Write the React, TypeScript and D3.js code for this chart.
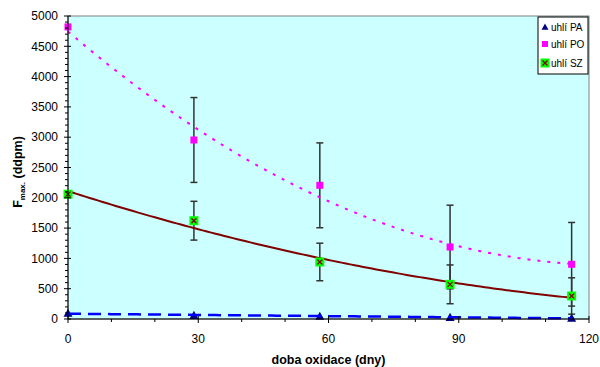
import React from "react";
import * as d3 from "d3";

const days = [0, 29, 58, 88, 116];
const paValues = [95, 60, 45, 28, 15];
const poValues = [4820, 2954, 2206, 1188, 903];
const poErr = [0, 700, 700, 690, 690];
const szValues = [2060, 1622, 941, 572, 380];
const szErr = [0, 320, 310, 320, 300];
const yTicks = [0, 500, 1000, 1500, 2000, 2500, 3000, 3500, 4000, 4500, 5000];
const xTicks = [0, 30, 60, 90, 120];
const legendLabels = ["uhlí PA", "uhlí PO", "uhlí SZ"];

const W = 600, H = 367;
const left = 68, right = 589, top = 16, bottom = 319;

function polyFit(xs: number[], ys: number[], deg: number) {
  const n = deg + 1;
  const A: number[][] = [];
  for (let i = 0; i < n; i++) {
    A.push([]);
    for (let j = 0; j <= n; j++) A[i].push(0);
  }
  xs.forEach((x, k) => {
    for (let i = 0; i < n; i++) {
      for (let j = 0; j < n; j++) A[i][j] += Math.pow(x, i + j);
      A[i][n] += Math.pow(x, i) * ys[k];
    }
  });
  for (let i = 0; i < n; i++) {
    let p = i;
    for (let r = i + 1; r < n; r++) if (Math.abs(A[r][i]) > Math.abs(A[p][i])) p = r;
    [A[i], A[p]] = [A[p], A[i]];
    for (let r = 0; r < n; r++) {
      if (r === i) continue;
      const f = A[r][i] / A[i][i];
      for (let c = i; c <= n; c++) A[r][c] -= f * A[i][c];
    }
  }
  const coef = A.map((row, i) => row[n] / row[i]);
  return (x: number) => coef.reduce((s, c, i) => s + c * Math.pow(x, i), 0);
}

export default function App() {
  const x = d3.scaleLinear().domain([0, 120]).range([left, right]);
  const y = d3.scaleLinear().domain([0, 5000]).range([bottom, top]);
  const samples = d3.range(0, 116.01, 1);
  const line = d3.line<[number, number]>().x((d) => x(d[0])).y((d) => y(d[1]));
  const poFit = polyFit(days, poValues, 2);
  const szFit = polyFit(days, szValues, 2);
  const paFit = polyFit(days, paValues, 1);
  const font = "Arial, 'Liberation Sans', sans-serif";
  const minorY = d3.range(0, 5001, 100).filter((v) => v % 500 !== 0);
  const minorX = d3.range(0, 121, 10).filter((v) => v % 30 !== 0);

  const errBar = (i: number, v: number, e: number, key: string) => {
    if (!e) return null;
    const cx = x(days[i]);
    return (
      <g key={key} stroke="#333" strokeWidth={1.5}>
        <line x1={cx} x2={cx} y1={y(v + e)} y2={y(v - e)} />
        <line x1={cx - 3.5} x2={cx + 3.5} y1={y(v + e)} y2={y(v + e)} />
        <line x1={cx - 3.5} x2={cx + 3.5} y1={y(v - e)} y2={y(v - e)} />
      </g>
    );
  };

  const tri = (cx: number, cy: number, s: number) =>
    `M${cx},${cy - s} L${cx + s},${cy + s * 0.8} L${cx - s},${cy + s * 0.8} Z`;

  const szMarker = (cx: number, cy: number, key: string) => (
    <g key={key}>
      <rect x={cx - 4.5} y={cy - 4.5} width={9} height={9} fill="#00ff00" />
      <path d={`M${cx - 2.5},${cy - 2.5} L${cx + 2.5},${cy + 2.5} M${cx + 2.5},${cy - 2.5} L${cx - 2.5},${cy + 2.5}`} stroke="#800000" strokeWidth={1.2} />
    </g>
  );

  return (
    <svg width={W} height={H} style={{ position: "absolute", left: 0, top: 0 }}>
      <rect x={0} y={0} width={W} height={H} fill="#fff" />
      <rect x={left} y={top} width={right - left} height={bottom - top} fill="#ccffff" stroke="#808080" strokeWidth={1} />
      {days.map((_, i) => errBar(i, poValues[i], poErr[i], "po" + i))}
      {days.map((_, i) => errBar(i, szValues[i], szErr[i], "sz" + i))}
      <path d={line(samples.map((d) => [d, poFit(d)]))!} fill="none" stroke="#ff00ff" strokeWidth={2} strokeDasharray="3,7" />
      <path d={line(samples.map((d) => [d, szFit(d)]))!} fill="none" stroke="#800000" strokeWidth={2} />
      {days.map((d, i) => (
        <path key={"pa" + i} d={tri(x(d), y(paValues[i]), 4.5)} fill="#000080" />
      ))}
      <path d={line(samples.map((d) => [d, paFit(d)]))!} fill="none" stroke="#0000ff" strokeWidth={2.5} strokeDasharray="13,7" />
      {days.map((d, i) => (
        <rect key={"pom" + i} x={x(d) - 3.5} y={y(poValues[i]) - 3.5} width={7} height={7} fill="#ff00ff" />
      ))}
      {days.map((d, i) => szMarker(x(d), y(szValues[i]), "szm" + i))}
      <line x1={left} x2={left} y1={top} y2={bottom} stroke="#000" strokeWidth={1} />
      <line x1={left} x2={right} y1={bottom} y2={bottom} stroke="#000" strokeWidth={1} />
      {yTicks.map((t) => (
        <g key={"yt" + t}>
          <line x1={left - 4} x2={left + 3} y1={y(t)} y2={y(t)} stroke="#000" />
          <text x={58} y={y(t)} dy="0.35em" textAnchor="end" fontFamily={font} fontSize={12} fill="#000">{t}</text>
        </g>
      ))}
      {minorY.map((t) => (
        <line key={"ym" + t} x1={left - 3} x2={left} y1={y(t)} y2={y(t)} stroke="#000" />
      ))}
      {xTicks.map((t) => (
        <g key={"xt" + t}>
          <line x1={x(t)} x2={x(t)} y1={bottom - 3} y2={bottom + 4} stroke="#000" />
          <text x={x(t)} y={343} textAnchor="middle" fontFamily={font} fontSize={12} fill="#000">{t}</text>
        </g>
      ))}
      {minorX.map((t) => (
        <line key={"xm" + t} x1={x(t)} x2={x(t)} y1={bottom} y2={bottom + 3} stroke="#000" />
      ))}
      <text x={(left + right) / 2} y={364} textAnchor="middle" fontFamily={font} fontSize={12.5} fontWeight="bold" fill="#000">doba oxidace (dny)</text>
      <text transform={`translate(22,172) rotate(-90)`} textAnchor="middle" fontFamily={font} fontSize={12.5} fontWeight="bold" fill="#000">
        F<tspan fontSize={8} dy={3}>max.</tspan><tspan dy={-3}> (ddpm)</tspan>
      </text>
      <rect x={538} y={17} width={50} height={57} fill="#fff" stroke="#000" strokeWidth={1} />
      {legendLabels.map((l, i) => {
        const ly = [27, 44, 63][i];
        return (
          <g key={l}>
            {i === 0 && <path d={tri(545, ly, 3.5)} fill="#000080" />}
            {i === 1 && <rect x={542} y={ly - 3} width={6} height={6} fill="#ff00ff" />}
            {i === 2 && szMarker(545, ly, "lg")}
            <text x={551} y={ly} dy="0.35em" fontFamily={font} fontSize={10} fill="#000">{l}</text>
          </g>
        );
      })}
    </svg>
  );
}
